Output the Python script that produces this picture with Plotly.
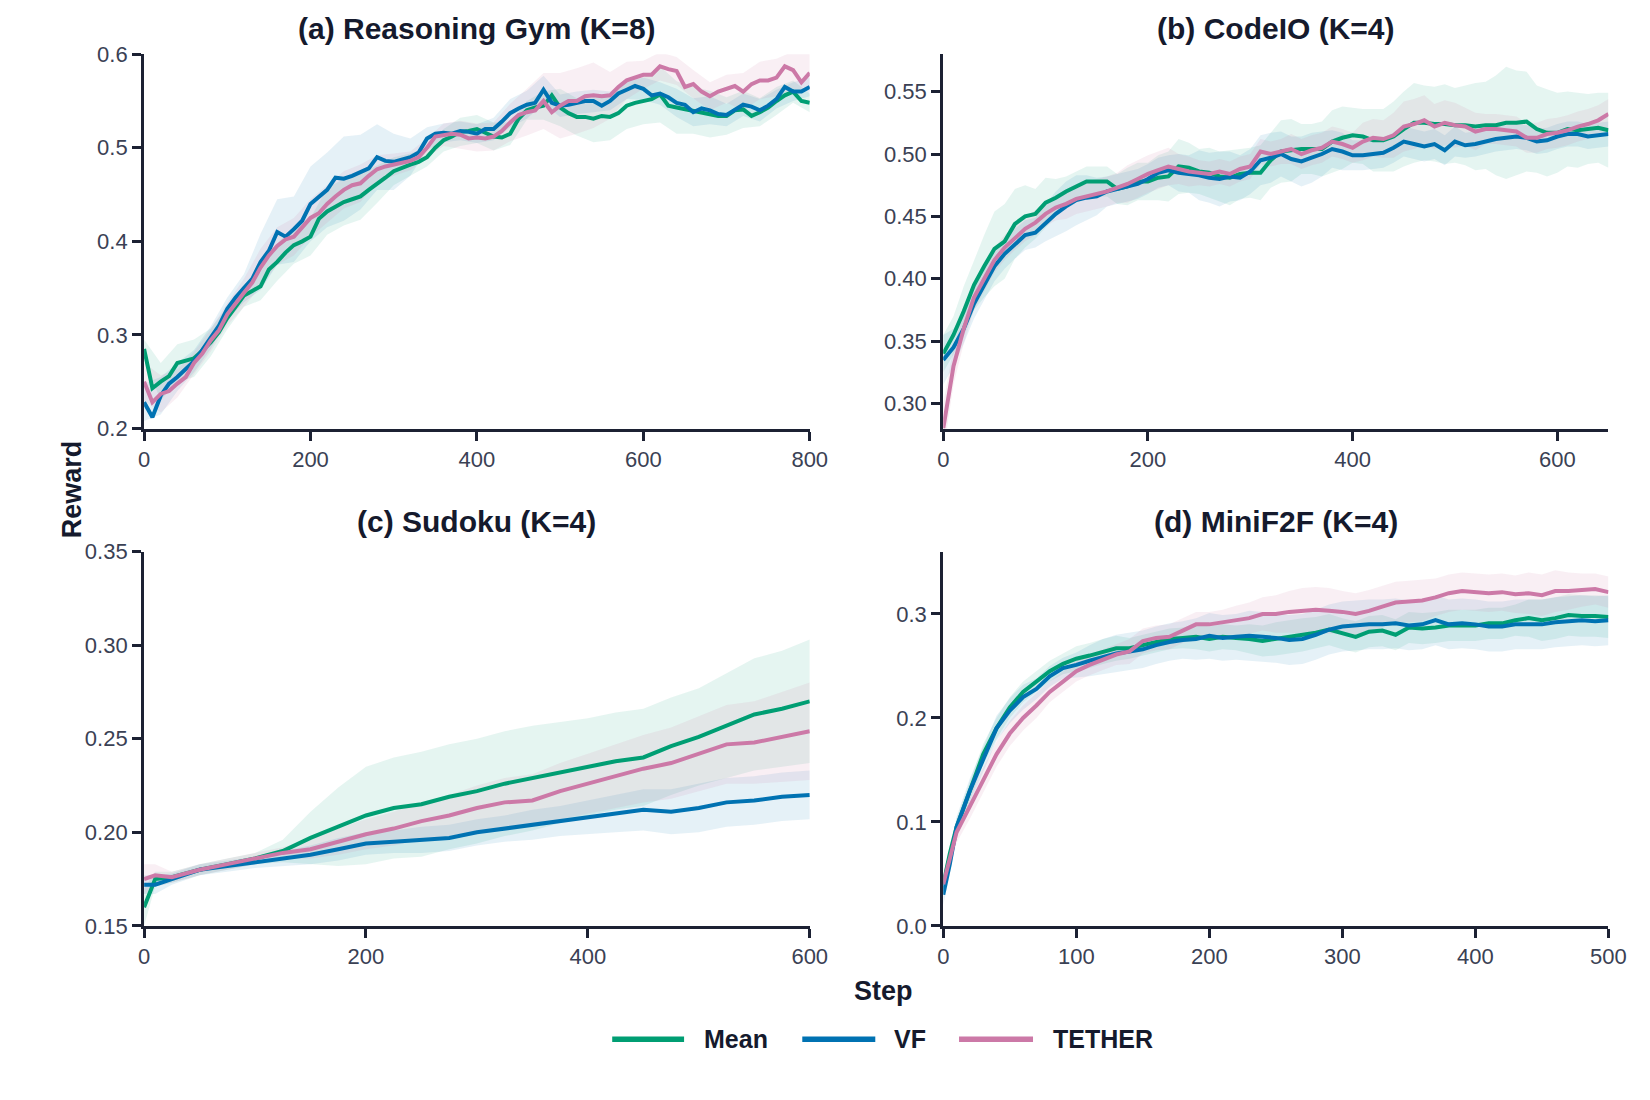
import plotly.graph_objects as go
from plotly.subplots import make_subplots

# ---- (a) Reasoning Gym (K=8) ----
steps_a = list(range(0, 801, 10))
mean_a = [0.285, 0.243, 0.25, 0.256, 0.27, 0.272, 0.275, 0.283, 0.292, 0.303,
          0.318, 0.33, 0.342, 0.347, 0.352, 0.37, 0.378, 0.388, 0.396, 0.4,
          0.405, 0.424, 0.432, 0.437, 0.442, 0.445, 0.448, 0.455, 0.461, 0.468,
          0.475, 0.479, 0.482, 0.485, 0.49, 0.5, 0.508, 0.512, 0.517, 0.518,
          0.52, 0.516, 0.512, 0.511, 0.515, 0.531, 0.54, 0.543, 0.545, 0.556,
          0.543, 0.537, 0.533, 0.533, 0.531, 0.534, 0.533, 0.537, 0.545, 0.548,
          0.55, 0.552, 0.557, 0.545, 0.543, 0.541, 0.54, 0.538, 0.536, 0.534,
          0.534, 0.54, 0.541, 0.534, 0.538, 0.543, 0.55, 0.556, 0.56, 0.55, 0.548]
vf_a = [0.228, 0.212, 0.235, 0.248, 0.255, 0.263, 0.272, 0.284, 0.297, 0.31,
        0.328, 0.34, 0.35, 0.36, 0.378, 0.39, 0.41, 0.405, 0.413, 0.422,
        0.44, 0.447, 0.455, 0.468, 0.467, 0.47, 0.474, 0.478, 0.49, 0.486,
        0.485, 0.487, 0.49, 0.495, 0.51, 0.515, 0.516, 0.515, 0.518, 0.517,
        0.515, 0.52, 0.52, 0.528, 0.537, 0.542, 0.546, 0.548, 0.562, 0.548,
        0.545, 0.546, 0.548, 0.55, 0.55, 0.545, 0.55, 0.558, 0.562, 0.566,
        0.563, 0.556, 0.558, 0.554, 0.548, 0.546, 0.538, 0.542, 0.54, 0.536,
        0.535, 0.54, 0.546, 0.544, 0.54, 0.545, 0.552, 0.565, 0.56, 0.56, 0.565]
tether_a = [0.25, 0.228, 0.237, 0.24, 0.248, 0.255, 0.27, 0.28, 0.294, 0.305,
            0.322, 0.334, 0.345, 0.356, 0.372, 0.385, 0.395, 0.402, 0.405, 0.415,
            0.425, 0.43, 0.44, 0.448, 0.455, 0.46, 0.462, 0.47, 0.477, 0.48,
            0.482, 0.484, 0.486, 0.49, 0.5, 0.512, 0.514, 0.515, 0.514, 0.51,
            0.511, 0.51, 0.512, 0.518, 0.527, 0.535, 0.538, 0.54, 0.55, 0.538,
            0.545, 0.55, 0.55, 0.555, 0.556, 0.555, 0.556, 0.565, 0.572, 0.575,
            0.578, 0.578, 0.587, 0.584, 0.582, 0.565, 0.568, 0.56, 0.555, 0.56,
            0.563, 0.566, 0.56, 0.568, 0.572, 0.572, 0.575, 0.587, 0.583, 0.57, 0.58]
# band half-widths, every 20 steps
mean_a_sd = [0.01, 0.02, 0.02, 0.02, 0.015, 0.012, 0.012, 0.015, 0.02, 0.02,
             0.02, 0.025, 0.025, 0.025, 0.02, 0.015, 0.012, 0.01, 0.012, 0.015,
             0.015, 0.015, 0.012, 0.01, 0.015, 0.02, 0.02, 0.025, 0.025, 0.025,
             0.025, 0.03, 0.028, 0.025, 0.025, 0.02, 0.02, 0.015, 0.015, 0.012, 0.01]
vf_a_sd = [0.02, 0.02, 0.015, 0.012, 0.012, 0.012, 0.015, 0.03, 0.035, 0.035,
           0.04, 0.04, 0.045, 0.04, 0.035, 0.03, 0.02, 0.012, 0.01, 0.01,
           0.01, 0.012, 0.015, 0.015, 0.015, 0.012, 0.012, 0.012, 0.01, 0.01,
           0.012, 0.012, 0.015, 0.015, 0.015, 0.012, 0.012, 0.012, 0.01, 0.01, 0.01]
tether_a_sd = [0.02, 0.02, 0.015, 0.012, 0.012, 0.012, 0.015, 0.02, 0.02, 0.02,
               0.02, 0.02, 0.02, 0.02, 0.015, 0.012, 0.01, 0.01, 0.012, 0.015,
               0.015, 0.015, 0.02, 0.025, 0.03, 0.035, 0.035, 0.035, 0.025, 0.02,
               0.015, 0.015, 0.015, 0.015, 0.015, 0.015, 0.02, 0.02, 0.02, 0.02, 0.02]

# ---- (b) CodeIO (K=4) ----
steps_b = list(range(0, 651, 10))
mean_b = [0.34, 0.355, 0.374, 0.395, 0.41, 0.424, 0.43, 0.444, 0.45, 0.452,
          0.461, 0.465, 0.47, 0.474, 0.478, 0.478, 0.478, 0.472, 0.474, 0.478,
          0.478, 0.481, 0.482, 0.49, 0.489, 0.486, 0.485, 0.482, 0.481, 0.484,
          0.485, 0.485, 0.495, 0.502, 0.503, 0.504, 0.504, 0.504, 0.51, 0.513,
          0.515, 0.514, 0.511, 0.511, 0.514, 0.52, 0.525, 0.525, 0.524, 0.524,
          0.523, 0.523, 0.522, 0.523, 0.523, 0.525, 0.525, 0.526, 0.52, 0.517,
          0.517, 0.52, 0.519, 0.52, 0.521, 0.519]
vf_b = [0.335, 0.345, 0.36, 0.38, 0.395, 0.41, 0.42, 0.428, 0.435, 0.437,
        0.445, 0.452, 0.458, 0.463, 0.465, 0.466, 0.47, 0.472, 0.474, 0.476,
        0.48, 0.485, 0.487, 0.485, 0.484, 0.483, 0.481, 0.48, 0.482, 0.481,
        0.486, 0.495, 0.497, 0.5, 0.496, 0.494, 0.497, 0.5, 0.504, 0.502,
        0.499, 0.499, 0.5, 0.501, 0.505, 0.51, 0.508, 0.506, 0.508, 0.503,
        0.51, 0.507, 0.508, 0.51, 0.512, 0.513, 0.514, 0.513, 0.51, 0.511,
        0.514, 0.516, 0.516, 0.514, 0.515, 0.516]
tether_b = [0.28, 0.33, 0.36, 0.385, 0.4, 0.415, 0.425, 0.433, 0.44, 0.445,
            0.452, 0.457, 0.46, 0.464, 0.466, 0.468, 0.47, 0.473, 0.476, 0.48,
            0.484, 0.487, 0.49, 0.488, 0.486, 0.485, 0.484, 0.486, 0.484, 0.488,
            0.49, 0.502, 0.5, 0.502, 0.504, 0.5, 0.503, 0.505, 0.51, 0.508,
            0.505, 0.51, 0.513, 0.512, 0.515, 0.522, 0.524, 0.527, 0.522, 0.525,
            0.523, 0.522, 0.518, 0.52, 0.52, 0.519, 0.518, 0.513, 0.513, 0.516,
            0.517, 0.519, 0.522, 0.524, 0.527, 0.532]
mean_b_sd = [0.015, 0.015, 0.02, 0.02,
             0.025, 0.03, 0.03, 0.028, 0.025, 0.02, 0.02,
             0.015, 0.012, 0.012, 0.012, 0.012, 0.012, 0.012, 0.015, 0.015, 0.015,
             0.018, 0.02, 0.022, 0.02, 0.018, 0.02, 0.02, 0.022, 0.02, 0.02,
             0.022, 0.022, 0.025, 0.025, 0.02, 0.02, 0.022, 0.025, 0.025, 0.022,
             0.022, 0.025, 0.025, 0.028, 0.03, 0.032, 0.03, 0.03, 0.032, 0.03,
             0.032, 0.035, 0.035, 0.04, 0.045, 0.042, 0.04, 0.035, 0.035, 0.032,
             0.03, 0.03, 0.028, 0.028, 0.03]
vf_b_sd = [0.02, 0.015, 0.012, 0.012,
           0.012, 0.012, 0.012, 0.012, 0.012, 0.012, 0.015,
           0.018, 0.02, 0.02, 0.018, 0.015, 0.012, 0.012, 0.012, 0.012, 0.012,
           0.012, 0.012, 0.015, 0.015, 0.02, 0.02, 0.022, 0.02, 0.018, 0.018,
           0.02, 0.02, 0.018, 0.018, 0.02, 0.02, 0.018, 0.015, 0.015, 0.012,
           0.012, 0.012, 0.012, 0.012, 0.012, 0.012, 0.012, 0.012, 0.012, 0.012,
           0.01, 0.01, 0.01, 0.01, 0.01, 0.01, 0.01, 0.01, 0.01, 0.01,
           0.01, 0.01, 0.01, 0.01, 0.01]
tether_b_sd = [0.02, 0.015, 0.012, 0.01,
               0.01, 0.01, 0.01, 0.01, 0.01, 0.01, 0.01,
               0.01, 0.012, 0.012, 0.012, 0.012, 0.012, 0.012, 0.015, 0.015, 0.015,
               0.015, 0.015, 0.012, 0.012, 0.01, 0.01, 0.01, 0.01, 0.01, 0.01,
               0.01, 0.01, 0.01, 0.012, 0.012, 0.012, 0.012, 0.012, 0.012, 0.012,
               0.015, 0.015, 0.015, 0.018, 0.02, 0.02, 0.02, 0.018, 0.018, 0.018,
               0.015, 0.015, 0.012, 0.012, 0.012, 0.012, 0.012, 0.012, 0.012, 0.012,
               0.012, 0.012, 0.012, 0.012, 0.012]

# ---- (c) Sudoku (K=4) ----
steps_c = [0, 10, 25, 50, 75, 100, 125, 150, 175, 200, 225, 250, 275, 300,
           325, 350, 375, 400, 425, 450, 475, 500, 525, 550, 575, 600]
mean_c = [0.16, 0.175, 0.176, 0.18, 0.183, 0.186, 0.19, 0.197, 0.203, 0.209,
          0.213, 0.215, 0.219, 0.222, 0.226, 0.229, 0.232, 0.235, 0.238, 0.24,
          0.246, 0.251, 0.257, 0.263, 0.266, 0.27]
vf_c = [0.172, 0.172, 0.175, 0.18, 0.182, 0.184, 0.186, 0.188, 0.191, 0.194,
        0.195, 0.196, 0.197, 0.2, 0.202, 0.204, 0.206, 0.208, 0.21, 0.212,
        0.211, 0.213, 0.216, 0.217, 0.219, 0.22]
tether_c = [0.175, 0.177, 0.176, 0.18, 0.183, 0.186, 0.189, 0.191, 0.195, 0.199,
            0.202, 0.206, 0.209, 0.213, 0.216, 0.217, 0.222, 0.226, 0.23, 0.234,
            0.237, 0.242, 0.247, 0.248, 0.251, 0.254]
mean_c_sd = [0.01, 0.004, 0.003, 0.003, 0.003, 0.003, 0.006, 0.014, 0.021, 0.026,
             0.027, 0.028, 0.028, 0.028, 0.028, 0.028, 0.027, 0.026, 0.026, 0.026,
             0.026, 0.026, 0.028, 0.03, 0.031, 0.033]
vf_c_sd = [0.005, 0.005, 0.003, 0.003, 0.003, 0.003, 0.004, 0.005, 0.006, 0.006,
           0.006, 0.007, 0.007, 0.007, 0.007, 0.008, 0.008, 0.009, 0.01, 0.011,
           0.012, 0.013, 0.013, 0.013, 0.013, 0.013]
tether_c_sd = [0.008, 0.006, 0.003, 0.003, 0.003, 0.003, 0.003, 0.005, 0.007, 0.008,
               0.009, 0.01, 0.011, 0.012, 0.013, 0.014, 0.015, 0.016, 0.017, 0.018,
               0.019, 0.02, 0.021, 0.022, 0.024, 0.026]

# ---- (d) MiniF2F (K=4) ----
steps_d = [0, 5] + list(range(10, 501, 10))
mean_d = [0.04, 0.07, 0.095, 0.13, 0.165, 0.19, 0.21, 0.225, 0.235, 0.245, 0.252,
          0.257, 0.26, 0.264, 0.267, 0.267, 0.27, 0.273, 0.276, 0.277, 0.278,
          0.276, 0.278, 0.277, 0.276, 0.274, 0.276, 0.278, 0.28, 0.282, 0.285,
          0.281, 0.278, 0.283, 0.284, 0.28, 0.287, 0.286, 0.287, 0.289, 0.289,
          0.289, 0.291, 0.291, 0.294, 0.296, 0.294, 0.296, 0.299, 0.298, 0.298, 0.297]
vf_d = [0.03, 0.06, 0.095, 0.13, 0.16, 0.19, 0.207, 0.22, 0.228, 0.24, 0.248,
        0.251, 0.255, 0.259, 0.262, 0.264, 0.266, 0.27, 0.273, 0.275, 0.276,
        0.279, 0.277, 0.278, 0.279, 0.278, 0.277, 0.275, 0.276, 0.28, 0.285,
        0.288, 0.289, 0.29, 0.29, 0.291, 0.289, 0.29, 0.294, 0.29, 0.291,
        0.29, 0.288, 0.288, 0.29, 0.29, 0.29, 0.292, 0.293, 0.294, 0.293, 0.294]
tether_d = [0.04, 0.065, 0.09, 0.115, 0.14, 0.165, 0.185, 0.2, 0.212, 0.225, 0.235,
            0.245, 0.251, 0.256, 0.261, 0.264, 0.274, 0.277, 0.278, 0.284, 0.29,
            0.29, 0.292, 0.294, 0.296, 0.3, 0.3, 0.302, 0.303, 0.304, 0.303,
            0.302, 0.3, 0.303, 0.307, 0.311, 0.312, 0.313, 0.316, 0.32, 0.322,
            0.321, 0.32, 0.321, 0.319, 0.32, 0.318, 0.322, 0.322, 0.323, 0.324, 0.321]
mean_d_sd = [0.008, 0.008, 0.008,
             0.01, 0.01, 0.01, 0.01, 0.01, 0.01, 0.01, 0.01, 0.012,
             0.012, 0.012, 0.012, 0.01, 0.01, 0.01, 0.01, 0.01, 0.012, 0.012,
             0.012, 0.012, 0.014, 0.015, 0.016, 0.016, 0.016, 0.015, 0.015, 0.015,
             0.015, 0.015, 0.015, 0.015, 0.015, 0.015, 0.015, 0.015, 0.015, 0.015,
             0.015, 0.015, 0.015, 0.018, 0.02, 0.02, 0.02, 0.02, 0.02, 0.02]
vf_d_sd = [0.01, 0.01, 0.01,
           0.012, 0.012, 0.012, 0.012, 0.012, 0.01, 0.01, 0.01, 0.012,
           0.015, 0.017, 0.018, 0.018, 0.018, 0.018, 0.018, 0.018, 0.02, 0.022,
           0.022, 0.022, 0.024, 0.024, 0.024, 0.024, 0.024, 0.024, 0.024, 0.024,
           0.024, 0.024, 0.024, 0.024, 0.024, 0.024, 0.024, 0.024, 0.024, 0.024,
           0.024, 0.024, 0.024, 0.024, 0.024, 0.024, 0.024, 0.024, 0.024, 0.024]
tether_d_sd = [0.01, 0.01, 0.01,
               0.012, 0.012, 0.012, 0.012, 0.012, 0.012, 0.01, 0.01, 0.01,
               0.01, 0.01, 0.01, 0.012, 0.012, 0.012, 0.012, 0.012, 0.012, 0.012,
               0.012, 0.014, 0.015, 0.016, 0.018, 0.02, 0.022, 0.022, 0.022, 0.02,
               0.02, 0.02, 0.02, 0.02, 0.02, 0.02, 0.018, 0.018, 0.018, 0.018,
               0.018, 0.018, 0.018, 0.02, 0.02, 0.02, 0.018, 0.016, 0.015, 0.015]

methods = ["Mean", "VF", "TETHER"]
colors = {"Mean": "#009E73", "VF": "#0072B2", "TETHER": "#CC79A7"}
fills = {"Mean": "rgba(0,158,115,0.10)", "VF": "rgba(0,114,178,0.10)",
         "TETHER": "rgba(204,121,167,0.12)"}

panels = [
    dict(title="(a) Reasoning Gym (K=8)", row=1, col=1, x=steps_a, band_every=2,
         y={"Mean": mean_a, "VF": vf_a, "TETHER": tether_a},
         sd={"Mean": mean_a_sd, "VF": vf_a_sd, "TETHER": tether_a_sd}),
    dict(title="(b) CodeIO (K=4)", row=1, col=2, x=steps_b, band_every=1,
         y={"Mean": mean_b, "VF": vf_b, "TETHER": tether_b},
         sd={"Mean": mean_b_sd, "VF": vf_b_sd, "TETHER": tether_b_sd}),
    dict(title="(c) Sudoku (K=4)", row=2, col=1, x=steps_c, band_every=1,
         y={"Mean": mean_c, "VF": vf_c, "TETHER": tether_c},
         sd={"Mean": mean_c_sd, "VF": vf_c_sd, "TETHER": tether_c_sd}),
    dict(title="(d) MiniF2F (K=4)", row=2, col=2, x=steps_d, band_every=1,
         y={"Mean": mean_d, "VF": vf_d, "TETHER": tether_d},
         sd={"Mean": mean_d_sd, "VF": vf_d_sd, "TETHER": tether_d_sd}),
]

FONT = "Liberation Sans, Arial, sans-serif"
DARK = "#151a2d"
TICK = "#3a4154"
AX = "#1c2133"

fig = make_subplots(rows=2, cols=2)

for p in panels:
    k = p["band_every"]
    bx = p["x"][::k]
    # bands first, lines on top
    for m in methods:
        ym = p["y"][m][::k]
        lo = [v - s for v, s in zip(ym, p["sd"][m])]
        hi = [v + s for v, s in zip(ym, p["sd"][m])]
        fig.add_trace(go.Scatter(
            x=bx + bx[::-1], y=hi + lo[::-1],
            fill="toself", fillcolor=fills[m], line=dict(width=0),
            mode="lines", hoverinfo="skip", showlegend=False
        ), row=p["row"], col=p["col"])
    for m in methods:
        fig.add_trace(go.Scatter(
            x=p["x"], y=p["y"][m], mode="lines", name=m,
            line=dict(color=colors[m], width=4),
            showlegend=False
        ), row=p["row"], col=p["col"])

axis_style = dict(showline=True, linewidth=3, linecolor=AX, ticks="outside",
                  ticklen=9, tickwidth=2.5, tickcolor=AX, showgrid=False,
                  zeroline=False, tickfont=dict(family=FONT, size=22, color=TICK))
fig.update_xaxes(**axis_style)
fig.update_yaxes(**axis_style)

# domains as paper fractions of the 1650x1100 figure
XL = [0.0800, 0.4894]
XR = [0.5715, 0.9806]
YT = [0.6200, 0.9682]
YB = [0.1573, 0.5055]
fig.update_layout(
    xaxis=dict(domain=XL, range=[0, 800], dtick=200),
    yaxis=dict(domain=YT, range=[0.2, 0.6], dtick=0.1, tickformat=".1f"),
    xaxis2=dict(domain=XR, range=[0, 650], dtick=200),
    yaxis2=dict(domain=YT, range=[0.28, 0.58], tick0=0.3, dtick=0.05,
                tickformat=".2f"),
    xaxis3=dict(domain=XL, range=[0, 600], dtick=200),
    yaxis3=dict(domain=YB, range=[0.15, 0.35], dtick=0.05, tickformat=".2f"),
    xaxis4=dict(domain=XR, range=[0, 500], dtick=100),
    yaxis4=dict(domain=YB, range=[0, 0.36], dtick=0.1, tickformat=".1f"),
)

annotations = []
title_pos = [(sum(XL) / 2, 0.9925), (sum(XR) / 2, 0.9925),
             (sum(XL) / 2, 0.5335), (sum(XR) / 2, 0.5335)]
for p, (tx, ty) in zip(panels, title_pos):
    annotations.append(dict(text="<b>" + p["title"] + "</b>", x=tx, y=ty,
                            xref="paper", yref="paper", showarrow=False,
                            xanchor="center", yanchor="middle",
                            font=dict(family=FONT, size=30, color=DARK)))
annotations.append(dict(text="<b>Reward</b>", x=0.0358, y=0.5636, xref="paper",
                        yref="paper", showarrow=False, textangle=-90,
                        xanchor="center", yanchor="middle",
                        font=dict(family=FONT, size=27, color=DARK)))
annotations.append(dict(text="<b>Step</b>", x=0.5345, y=0.0964, xref="paper",
                        yref="paper", showarrow=False, xanchor="center",
                        yanchor="middle", font=dict(family=FONT, size=27, color=DARK)))

# legend row at the bottom: swatch + bold label per method
shapes = []
legend_y = 0.0518
legend_slots = {"Mean": (0.3679, 0.4121, 0.4230),
                "VF": (0.4848, 0.5297, 0.5400),
                "TETHER": (0.5812, 0.6267, 0.6376)}
for m in methods:
    x0, x1, xt = legend_slots[m]
    shapes.append(dict(type="line", xref="paper", yref="paper", x0=x0, x1=x1,
                       y0=legend_y, y1=legend_y,
                       line=dict(color=colors[m], width=5.5)))
    annotations.append(dict(text="<b>" + m + "</b>", x=xt, y=legend_y,
                            xref="paper", yref="paper", showarrow=False,
                            xanchor="left", yanchor="middle",
                            font=dict(family=FONT, size=25, color=DARK)))

fig.update_layout(
    width=1650, height=1100,
    margin=dict(l=0, r=0, t=0, b=0),
    paper_bgcolor="white", plot_bgcolor="white",
    annotations=annotations, shapes=shapes,
    showlegend=False,
    font=dict(family=FONT, color=DARK),
)

fig.write_html("out.html")
